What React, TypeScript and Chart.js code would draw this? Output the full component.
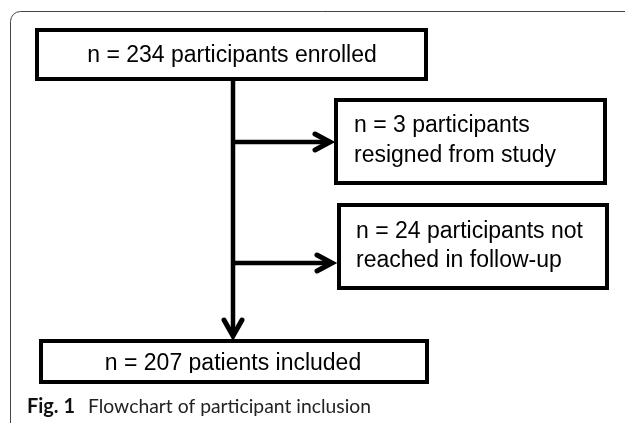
import React, { useEffect, useRef } from "react";
import { Chart, registerables } from "chart.js";

Chart.register(...registerables);

// ---- data ----
const boxLeft = [37, 336, 339, 41];
const boxRight = [426, 605, 607, 427];
const boxTop = [30, 100, 205, 341];
const boxBottom = [79, 183, 288, 382];
const boxLines = [
  ["n = 234 participants enrolled"],
  ["n = 3 participants", "resigned from study"],
  ["n = 24 participants not", "reached in follow-up"],
  ["n = 207 patients included"],
];
const boxAlign = ["center", "left", "left", "center"];
const textX = [232, 354, 356, 233];
const textBaselines = [[62], [132, 162], [238, 267], [370]];

const trunkX = 233;
const trunkTop = 81;
const trunkTip = 336;
const branchY = [142, 263];
const branchTip = [330, 332];

const captionBold = "Fig. 1";
const captionText = "Flowchart of participant inclusion";

const W = 627;
const H = 423;

function chevronDown(x: number, y: number) {
  return [
    { x: x - 9, y: y - 16 },
    { x, y },
    { x: x + 9, y: y - 16 },
  ];
}
function chevronRight(x: number, y: number) {
  return [
    { x: x - 15, y: y - 8 },
    { x, y },
    { x: x - 15, y: y + 8 },
  ];
}

const overlay = {
  id: "flowOverlay",
  beforeDatasetsDraw(chart: any) {
    const { ctx } = chart;
    const xs = chart.scales.x;
    const ys = chart.scales.y;
    const px = (v: number) => xs.getPixelForValue(v);
    const py = (v: number) => ys.getPixelForValue(v);
    ctx.save();
    ctx.fillStyle = "#ffffff";
    ctx.fillRect(0, 0, chart.width, chart.height);
    const fx = px(10.5);
    const fy = py(11.5);
    const r = 10;
    ctx.strokeStyle = "#444";
    ctx.lineWidth = 1;
    ctx.beginPath();
    ctx.moveTo(fx, py(423));
    ctx.lineTo(fx, fy + r);
    ctx.arcTo(fx, fy, fx + r, fy, r);
    ctx.lineTo(px(625), fy);
    ctx.stroke();
    ctx.restore();
  },
  afterDatasetsDraw(chart: any) {
    const { ctx } = chart;
    const xs = chart.scales.x;
    const ys = chart.scales.y;
    const px = (v: number) => xs.getPixelForValue(v);
    const py = (v: number) => ys.getPixelForValue(v);
    ctx.save();
    ctx.fillStyle = "#000";
    ctx.font = '23px "Liberation Sans", Arial, sans-serif';
    ctx.textBaseline = "alphabetic";
    boxLines.forEach((lines, i) => {
      ctx.save();
      ctx.beginPath();
      ctx.rect(
        px(boxLeft[i]) + 2,
        py(boxTop[i]) + 2,
        px(boxRight[i]) - px(boxLeft[i]) - 4,
        (i === 3 ? py(373) : py(boxBottom[i]) - 2) - py(boxTop[i]) - 2
      );
      ctx.clip();
      ctx.textAlign = boxAlign[i];
      lines.forEach((t, j) => {
        ctx.fillText(t, px(textX[i]), py(textBaselines[i][j]));
      });
      ctx.restore();
    });
    // caption
    const capY = py(413);
    ctx.textAlign = "left";
    ctx.font = 'bold 20px Lato, "Noto Sans", sans-serif';
    ctx.fillStyle = "#111";
    const bw = ctx.measureText(captionBold).width;
    ctx.save();
    ctx.translate(px(27), capY);
    ctx.scale(48 / bw, 1);
    ctx.fillText(captionBold, 0, 0);
    ctx.restore();
    ctx.font = '20px Lato, "Noto Sans", sans-serif';
    ctx.fillStyle = "#222";
    const cw = ctx.measureText(captionText).width;
    ctx.save();
    ctx.translate(px(88), capY);
    ctx.scale(283 / cw, 1);
    ctx.fillText(captionText, 0, 0);
    ctx.restore();
    ctx.restore();
  },
};

export default function App() {
  const ref = useRef<HTMLCanvasElement | null>(null);
  useEffect(() => {
    if (!ref.current) return;
    const lineBase = {
      showLine: true,
      pointRadius: 0,
      pointHoverRadius: 0,
      fill: false,
      tension: 0,
      borderColor: "#000",
    };
    const datasets: any[] = [];
    boxLeft.forEach((l, i) => {
      datasets.push({
        ...lineBase,
        borderWidth: 4,
        borderJoinStyle: "miter",
        borderCapStyle: "square",
        data: [
          { x: l, y: boxTop[i] },
          { x: boxRight[i], y: boxTop[i] },
          { x: boxRight[i], y: boxBottom[i] },
          { x: l, y: boxBottom[i] },
          { x: l, y: boxTop[i] },
        ],
      });
    });
    datasets.push({
      ...lineBase,
      borderWidth: 4.5,
      borderCapStyle: "butt",
      data: [
        { x: trunkX, y: trunkTop },
        { x: trunkX, y: trunkTip },
      ],
    });
    datasets.push({
      ...lineBase,
      borderWidth: 5,
      borderJoinStyle: "miter",
      borderCapStyle: "round",
      data: chevronDown(trunkX, trunkTip),
    });
    branchY.forEach((y, i) => {
      datasets.push({
        ...lineBase,
        borderWidth: 4.5,
        borderCapStyle: "butt",
        data: [
          { x: trunkX, y },
          { x: branchTip[i], y },
        ],
      });
      datasets.push({
        ...lineBase,
        borderWidth: 5,
        borderJoinStyle: "miter",
        borderCapStyle: "round",
        data: chevronRight(branchTip[i], y),
      });
    });
    const chart = new Chart(ref.current, {
      type: "scatter",
      data: { datasets },
      options: {
        animation: false,
        responsive: false,
        devicePixelRatio: 1,
        events: [],
        layout: { padding: 0 },
        plugins: { legend: { display: false }, tooltip: { enabled: false } },
        scales: {
          x: { type: "linear", min: 0, max: W, display: false },
          y: { type: "linear", min: 0, max: H, reverse: true, display: false },
        },
      },
      plugins: [overlay],
    });
    return () => chart.destroy();
  }, []);
  return (
    <div style={{ position: "fixed", left: 0, top: 0, width: W, height: H, background: "#fff" }}>
      <canvas ref={ref} width={W} height={H} style={{ display: "block", width: W, height: H }} />
    </div>
  );
}
